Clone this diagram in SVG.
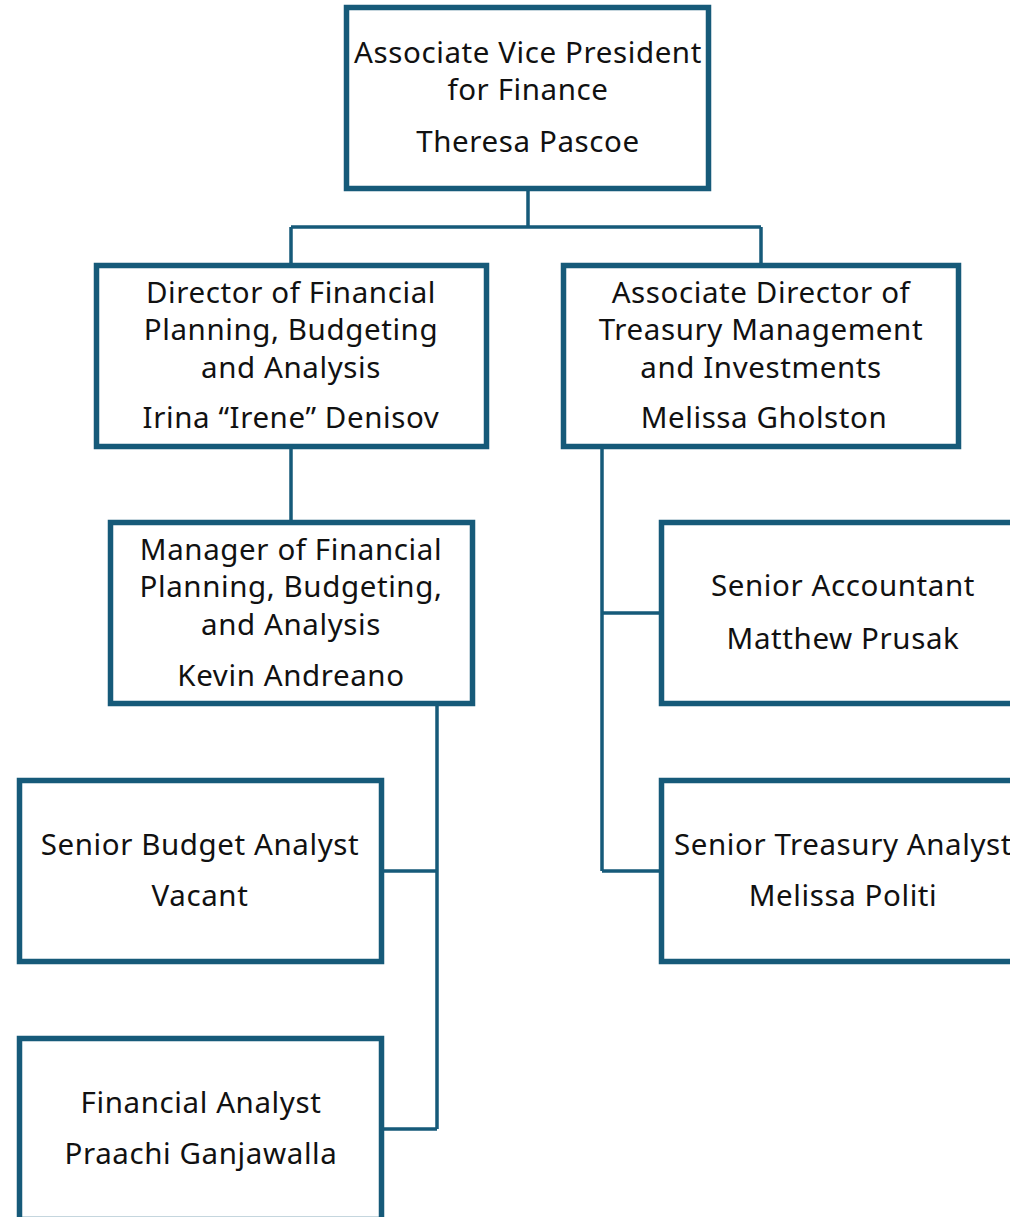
<svg xmlns="http://www.w3.org/2000/svg" width="1010" height="1217" viewBox="0 0 1010 1217">
<style>
.box{fill:#fff;stroke:#165a79;stroke-width:5.5}
.ln{fill:none;stroke:#165a79;stroke-width:3.5}
text{font-family:"Noto Sans","Open Sans",sans-serif;font-size:29.5px;letter-spacing:0.6px;fill:#111;text-anchor:middle}
</style>
<rect width="1010" height="1217" fill="#fff"/>
<g id="connectors">
<path class="ln" d="M528 190V227M291 227H761M291 227V264M761 227V264"/>
<path class="ln" d="M291 448V521"/>
<path class="ln" d="M602 448V871M602 613H661M602 871H661"/>
<path class="ln" d="M437 706V1129M384 871H437M384 1129H437"/>
</g>
<g id="avp">
<rect class="box" x="346.5" y="7.5" width="362" height="181"/>
<text x="528" y="63">Associate Vice President</text>
<text x="528" y="100">for Finance</text>
<text x="528" y="152">Theresa Pascoe</text>
</g>
<g id="director-fpba">
<rect class="box" x="96.5" y="265.5" width="390" height="181"/>
<text x="291" y="303">Director of Financial</text>
<text x="291" y="340">Planning, Budgeting</text>
<text x="291" y="378">and Analysis</text>
<text x="291" y="428">Irina “Irene” Denisov</text>
</g>
<g id="assoc-director-tmi">
<rect class="box" x="563.5" y="265.5" width="395" height="181"/>
<text x="761" y="303">Associate Director of</text>
<text x="761" y="340">Treasury Management</text>
<text x="761" y="378">and Investments</text>
<text x="764" y="428">Melissa Gholston</text>
</g>
<g id="manager-fpba">
<rect class="box" x="110.5" y="522.5" width="362" height="181"/>
<text x="291" y="560">Manager of Financial</text>
<text x="291" y="597">Planning, Budgeting,</text>
<text x="291" y="635">and Analysis</text>
<text x="291" y="686">Kevin Andreano</text>
</g>
<g id="senior-accountant">
<rect class="box" x="661.5" y="522.5" width="362" height="181"/>
<text x="843" y="596">Senior Accountant</text>
<text x="843" y="649">Matthew Prusak</text>
</g>
<g id="senior-treasury-analyst">
<rect class="box" x="661.5" y="780.5" width="362" height="181"/>
<text x="843" y="855">Senior Treasury Analyst</text>
<text x="843" y="906">Melissa Politi</text>
</g>
<g id="senior-budget-analyst">
<rect class="box" x="19.5" y="780.5" width="362" height="181"/>
<text x="200" y="855">Senior Budget Analyst</text>
<text x="200" y="906">Vacant</text>
</g>
<g id="financial-analyst">
<rect class="box" x="19.5" y="1038.5" width="362" height="181"/>
<text x="201" y="1113">Financial Analyst</text>
<text x="201" y="1164">Praachi Ganjawalla</text>
</g>
</svg>
